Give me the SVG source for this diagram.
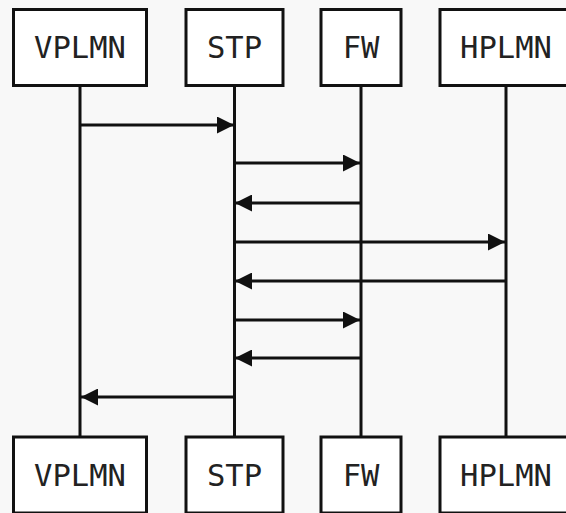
<svg xmlns="http://www.w3.org/2000/svg" width="566" height="513" viewBox="0 0 566 513">
<style>
.box{fill:#ffffff;stroke:#111;stroke-width:3}
.life{stroke:#111;stroke-width:3}
.msg{stroke:#111;stroke-width:3;fill:none}
.lbl{font-family:"DejaVu Sans Mono",monospace;font-size:30.5px;fill:#222;text-anchor:middle}
</style>
<defs>
<marker id="ah" viewBox="0 0 10 10" refX="10" refY="5" markerUnits="userSpaceOnUse" markerWidth="19" markerHeight="17" orient="auto">
<path d="M0,0 L10,5 L0,10 Z" fill="#111"/>
</marker>
</defs>
<rect width="566" height="513" fill="#f8f8f8"/>
<g id="lifelines">
<line class="life" x1="80" y1="85" x2="80" y2="437"/>
<line class="life" x1="234.5" y1="85" x2="234.5" y2="437"/>
<line class="life" x1="361" y1="85" x2="361" y2="437"/>
<line class="life" x1="506" y1="85" x2="506" y2="437"/>
</g>
<g id="connectors">
<line class="msg" x1="80" y1="125" x2="234" y2="125" marker-end="url(#ah)"/>
<line class="msg" x1="234.5" y1="163" x2="360" y2="163" marker-end="url(#ah)"/>
<line class="msg" x1="361" y1="203" x2="235" y2="203" marker-end="url(#ah)"/>
<line class="msg" x1="234.5" y1="242" x2="505" y2="242" marker-end="url(#ah)"/>
<line class="msg" x1="506" y1="281" x2="235" y2="281" marker-end="url(#ah)"/>
<line class="msg" x1="234.5" y1="320" x2="360" y2="320" marker-end="url(#ah)"/>
<line class="msg" x1="361" y1="358" x2="235" y2="358" marker-end="url(#ah)"/>
<line class="msg" x1="234.5" y1="397" x2="81" y2="397" marker-end="url(#ah)"/>
</g>
<g id="vplmn-top"><rect class="box" x="13.5" y="9.5" width="133" height="76"/><text class="lbl" x="80" y="58">VPLMN</text></g>
<g id="stp-top"><rect class="box" x="186" y="9.5" width="97" height="76"/><text class="lbl" x="234.5" y="58">STP</text></g>
<g id="fw-top"><rect class="box" x="321" y="9.5" width="80" height="76"/><text class="lbl" x="361" y="58">FW</text></g>
<g id="hplmn-top"><rect class="box" x="440" y="9.5" width="132" height="76"/><text class="lbl" x="506" y="58">HPLMN</text></g>
<g id="vplmn-bottom"><rect class="box" x="13.5" y="437" width="133" height="76"/><text class="lbl" x="80" y="485.5">VPLMN</text></g>
<g id="stp-bottom"><rect class="box" x="186" y="437" width="97" height="76"/><text class="lbl" x="234.5" y="485.5">STP</text></g>
<g id="fw-bottom"><rect class="box" x="321" y="437" width="80" height="76"/><text class="lbl" x="361" y="485.5">FW</text></g>
<g id="hplmn-bottom"><rect class="box" x="440" y="437" width="132" height="76"/><text class="lbl" x="506" y="485.5">HPLMN</text></g>
</svg>
